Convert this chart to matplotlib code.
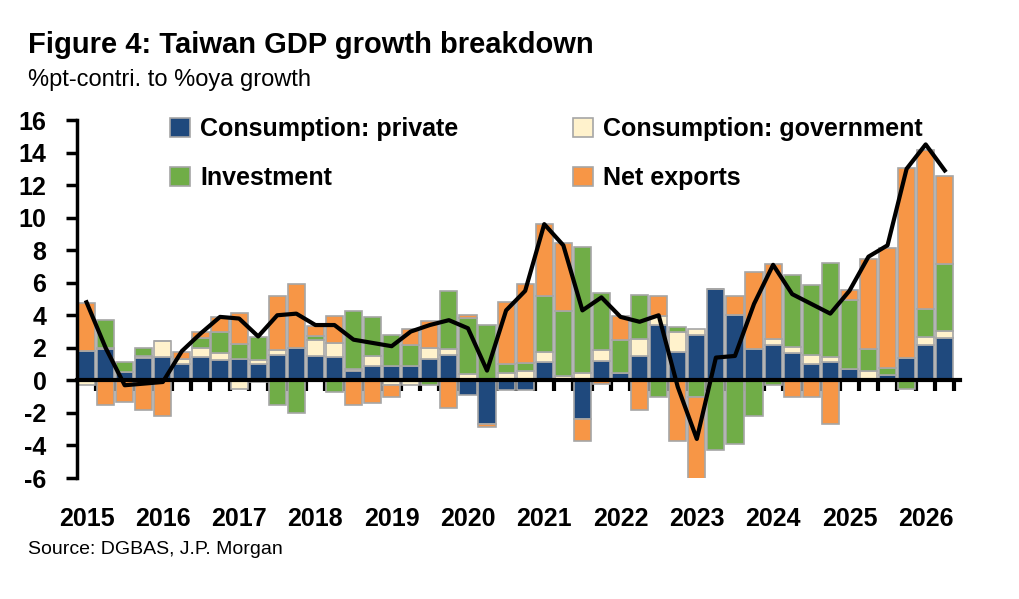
import matplotlib.pyplot as plt
import numpy as np

plt.rcParams["font.family"] = ["Liberation Sans", "DejaVu Sans"]
plt.rcParams["axes.unicode_minus"] = False

# quarterly, 2015Q1 .. 2026Q2
years = list(range(2015, 2027))
private = [1.78, 1.9, 0.5, 1.37, 1.44, 1.0, 1.44, 1.27, 1.33, 1.0, 1.58, 2.0,
           1.5, 1.44, 0.57, 0.88, 0.88, 0.88, 1.33, 1.58, -0.9, -2.67, -0.6, -0.6,
           1.13, 0.0, -2.4, 1.17, 0.45, 1.47, 3.4, 1.75, 2.77, 5.6, 4.04, 1.9,
           2.2, 1.7, 1.03, 1.1, 0.7, 0.1, 0.3, 1.35, 2.2, 2.6]
government = [-0.3, 0.1, 0.0, 0.1, 0.96, 0.3, 0.57, 0.4, -0.5, 0.25, 0.27, 0.0,
              1.0, 0.88, 0.1, 0.6, -0.3, -0.3, 0.66, 0.37, 0.4, 0.0, 0.45, 0.55,
              0.62, 0.25, 0.45, 0.7, 0.0, 1.06, 0.53, 1.23, 0.4, 0.0, 0.0, 0.0,
              0.35, 0.37, 0.55, 0.35, 0.0, 0.45, 0.0, 0.0, 0.47, 0.45]
investment = [0.0, 1.74, 0.6, 0.5, 0.0, 0.0, 0.6, 1.33, 0.9, 1.4, -1.5, -2.0,
              0.25, -0.7, 3.6, 2.4, 1.9, 1.3, -0.3, 3.53, 3.45, 3.4, 0.55, 0.5,
              3.45, 4.0, 7.75, 3.5, 2.0, 2.73, -1.0, 0.33, -1.0, -4.3, -3.9, -2.2,
              -0.3, 4.4, 4.3, 5.75, 4.25, 1.35, 0.45, -0.5, 1.7, 4.1]
net_exports = [2.98, -1.5, -1.3, -1.8, -2.2, 0.45, 0.37, 0.88, 1.93, -0.1, 3.33, 3.9,
               0.57, 1.64, -1.5, -1.4, -0.7, 1.0, 1.66, -1.7, 0.18, -0.2, 3.8, 4.9,
               4.4, 4.2, -1.3, -0.2, 1.5, -1.8, 1.23, -3.7, -5.15, 0.0, 1.13, 4.75,
               4.6, -1.05, -1.0, -2.7, 0.6, 5.55, 7.4, 11.7, 9.8, 5.4]
gdp = [4.8, 2.0, -0.3, -0.2, -0.1, 1.8, 2.9, 3.9, 3.8, 2.7, 4.0, 4.1,
       3.4, 3.4, 2.5, 2.3, 2.1, 3.0, 3.4, 3.7, 3.2, 0.6, 4.3, 5.5,
       9.6, 8.3, 4.3, 5.1, 3.9, 3.6, 4.0, -0.4, -3.6, 1.4, 1.5, 4.7,
       7.1, 5.3, 4.7, 4.1, 5.5, 7.6, 8.3, 13.0, 14.5, 12.9]

series = [
    ("Consumption: private", private, "#1f497d"),
    ("Consumption: government", government, "#fff2cc"),
    ("Investment", investment, "#70ad47"),
    ("Net exports", net_exports, "#f79646"),
]

fig = plt.figure(figsize=(10.2, 5.99), dpi=100)
ax = fig.add_axes([77 / 1020, 1 - 478 / 599, (960 - 77) / 1020, (478 - 120) / 599])

x = np.arange(len(gdp))
pos = np.zeros(len(x))
neg = np.zeros(len(x))
handles = {}
for name, vals, col in series:
    v = np.array(vals)
    bottom = np.where(v >= 0, pos, neg)
    handles[name] = ax.bar(x, v, 0.9, bottom=bottom, color=col, edgecolor="#a6a6a6",
                           linewidth=1.2, label=name, zorder=2)
    pos += np.where(v >= 0, v, 0)
    neg += np.where(v < 0, v, 0)

ax.plot(x, gdp, color="black", lw=3, zorder=4)

ax.set_xlim(-0.5, 45.8)
ax.set_ylim(-6, 16)
ax.set_yticks(range(-6, 17, 2))
ax.tick_params(axis="y", direction="out", length=8, width=2.5, labelsize=18, pad=14)
for lab in ax.get_yticklabels():
    lab.set_fontweight("bold")

ax.spines["top"].set_visible(False)
ax.spines["right"].set_visible(False)
ax.spines["left"].set_linewidth(2.5)
ax.spines["bottom"].set_position(("data", 0))
ax.spines["bottom"].set_linewidth(3)
ax.spines["bottom"].set_zorder(5)
ax.set_xticks(np.arange(0.5, len(x), 1))
ax.tick_params(axis="x", direction="out", length=8, width=3, labelbottom=False)

for i, yr in enumerate(years):
    ax.text(i * 4, -0.08, str(yr), transform=ax.get_xaxis_transform(),
            ha="center", va="top", fontsize=18, fontweight="bold")

# column-first legend -> order so rows read private/government, investment/net exports
order = ["Consumption: private", "Investment", "Consumption: government", "Net exports"]
ax.legend([handles[k] for k in order], order, loc="upper left",
          bbox_to_anchor=(0.08, 1.07), ncol=2, frameon=False,
          prop={"weight": "bold", "size": 18}, handlelength=0.8,
          handleheight=0.8, handletextpad=0.4, columnspacing=4.6, labelspacing=1.0)

fig.text(28 / 1020, 1 - 45 / 599, "Figure 4: Taiwan GDP growth breakdown",
         fontsize=21, fontweight="bold", va="center")
fig.text(28 / 1020, 1 - 80 / 599, "%pt-contri. to %oya growth", fontsize=17, va="center")
fig.text(28 / 1020, 1 - 549 / 599, "Source: DGBAS, J.P. Morgan", fontsize=14, va="center")

fig.savefig("out.png", dpi=100)
